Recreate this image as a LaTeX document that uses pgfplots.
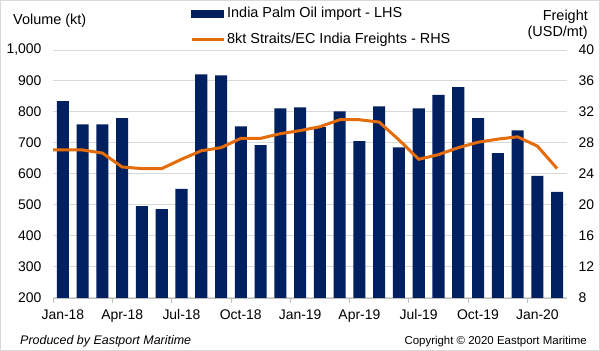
\documentclass[border=0pt]{standalone}
\usepackage{fontspec}
\setmainfont{Liberation Sans}
\usepackage{pgfplots}
\pgfplotsset{compat=1.18}
\definecolor{navy}{RGB}{0,32,96}
\definecolor{lineor}{RGB}{228,108,10}
\definecolor{gridc}{RGB}{217,217,217}
\definecolor{axc}{RGB}{191,191,191}
\begin{document}
\begin{tikzpicture}
\path[use as bounding box] (0,0) rectangle (600bp,351bp);
\draw[gray!30, line width=1bp] (0.5bp,0.5bp) rectangle (599.5bp,350.5bp);
\begin{axis}[
  at={(53bp,53bp)}, anchor=south west, scale only axis, width=514bp, height=248bp,
  xmin=-0.5, xmax=25.5, ymin=200, ymax=1000,
  axis x line*=bottom, axis y line*=left,
  y axis line style={draw=none},
  x axis line style={draw=axc, line width=0.75bp, -},
  ytick={200,300,...,1000},
  ymajorgrids, grid style={draw=gridc, line width=1bp},
  xtick={0,3,...,24},
  xticklabels={Jan-18,Apr-18,Jul-18,Oct-18,Jan-19,Apr-19,Jul-19,Oct-19,Jan-20},
  major tick length=0pt,
  tick align=outside,
  tick style={draw=axc, line width=0.75bp},
  extra x ticks={-0.5,2.5,5.5,8.5,11.5,14.5,17.5,20.5,23.5},
  extra x tick labels={},
  extra x tick style={major tick length=5bp},
  ticklabel style={font=\fontsize{14}{16}\selectfont},
  /pgf/number format/assume math mode=true,
  /pgf/number format/1000 sep={,},
  yticklabel style={xshift=-8bp},
  xticklabel style={yshift=-8bp},
]
\addplot[ybar, bar width=0.61, fill=navy, draw=none] coordinates {
(0,835) (1,760) (2,760) (3,780) (4,496) (5,487) (6,552) (7,921) (8,918) (9,754)
(10,693) (11,812) (12,815) (13,751) (14,802) (15,706) (16,818) (17,686) (18,812)
(19,855) (20,880) (21,780) (22,667) (23,741) (24,594) (25,542)};
\end{axis}
\begin{axis}[
  at={(53bp,53bp)}, anchor=south west, scale only axis, width=514bp, height=248bp,
  xmin=-0.5, xmax=25.5, ymin=8, ymax=40,
  axis x line=none, axis y line*=right, y axis line style={draw=none},
  ytick={8,12,...,40}, major tick length=0pt,
  ticklabel style={font=\fontsize{14}{16}\selectfont},
  /pgf/number format/assume math mode=true,
  yticklabel style={anchor=west, xshift=8bp},
  legend style={at={(axis description cs:0.2665,1.176)}, anchor=north west, draw=none, fill=none, inner sep=0pt,
    font=\fontsize{14.5}{16}\selectfont,
    nodes={inner sep=0pt, text height=11bp, text depth=3bp},
    row sep=12bp,
    /tikz/every odd column/.append style={column sep=2bp}},
  legend cell align=left,
]
\addlegendimage{legend image code/.code={\fill[navy] (0bp,-3.5bp) rectangle (32bp,3.5bp);}}
\addlegendentry{India Palm Oil import - LHS}
\addplot[lineor, line width=3bp, legend image code/.code={\draw[lineor, line width=3bp] (0bp,0bp) -- (32bp,0bp);}] coordinates {
(-1,27.1) (0,27.1) (1,27.1) (2,26.7) (3,24.9) (4,24.7) (5,24.7) (6,25.9) (7,27.0) (8,27.4)
(9,28.6) (10,28.6) (11,29.2) (12,29.6) (13,30.1) (14,31.0) (15,31.0) (16,30.7)
(17,28.4) (18,25.9) (19,26.5) (20,27.4) (21,28.1) (22,28.5) (23,28.8) (24,27.6) (25,24.7)};
\addlegendentry{8kt Straits/EC India Freights - RHS}
\end{axis}
\node[anchor=base west, inner sep=0pt, font=\fontsize{14.5}{16}\selectfont] at (13bp,326bp) {Volume (kt)};
\node[anchor=base east, inner sep=0pt, font=\fontsize{14.5}{16}\selectfont] at (588bp,330bp) {Freight};
\node[anchor=base east, inner sep=0pt, font=\fontsize{14.5}{16}\selectfont] at (588bp,314bp) {(USD/mt)};
\node[anchor=base west, inner sep=0pt, font=\fontsize{12.5}{14}\selectfont\itshape] at (20bp,7bp) {Produced by Eastport Maritime};
\node[anchor=base east, inner sep=0pt, font=\fontsize{11.5}{13}\selectfont] at (587bp,7bp) {Copyright © 2020 Eastport Maritime};
\end{tikzpicture}
\end{document}
